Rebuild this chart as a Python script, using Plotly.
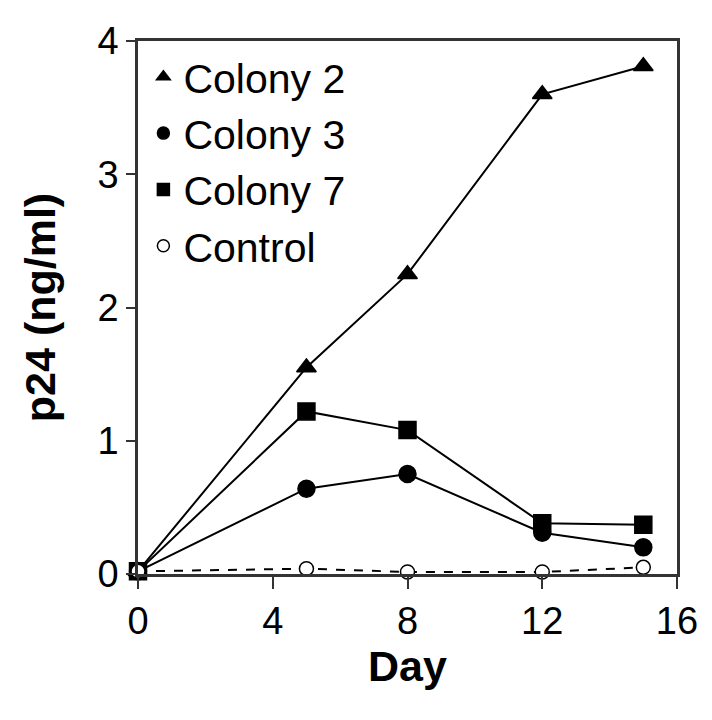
import plotly.graph_objects as go

days = [0, 5, 8, 12, 15]
colony2 = [0.02, 1.55, 2.25, 3.60, 3.81]
colony3 = [0.02, 0.64, 0.75, 0.31, 0.20]
colony7 = [0.02, 1.22, 1.08, 0.38, 0.37]
control = [0.02, 0.04, 0.015, 0.015, 0.05]

font = "Liberation Sans, Arial, Helvetica, sans-serif"

series = [
    ("Colony 2", colony2, "triangle-up", "black", 17, "solid"),
    ("Colony 3", colony3, "circle", "black", 17, "solid"),
    ("Colony 7", colony7, "square", "black", 17, "solid"),
    ("Control", control, "circle", "white", 14, "dash"),
]

fig = go.Figure()

# plotted lines (no legend)
for name, vals, sym, fill, size, dash in series:
    fig.add_trace(go.Scatter(
        x=days, y=vals, mode="lines+markers", showlegend=False,
        line=dict(color="black", width=2, dash=dash),
        marker=dict(symbol=sym, size=size, color=fill,
                    line=dict(color="black", width=1.5)),
        cliponaxis=False,
    ))

# legend entries show markers only
for name, vals, sym, fill, size, dash in series:
    fig.add_trace(go.Scatter(
        x=[None], y=[None], mode="markers", name=name,
        marker=dict(symbol=sym, size=12, color=fill,
                    line=dict(color="black", width=1.5)),
    ))

fig.update_layout(
    width=712, height=720,
    margin=dict(l=130, r=43, t=30, b=154),
    paper_bgcolor="white", plot_bgcolor="white",
    font=dict(family=font, size=38, color="black"),
    legend=dict(x=0.01, y=0.995, xanchor="left", yanchor="top",
                bgcolor="rgba(0,0,0,0)", font=dict(size=41),
                itemwidth=30, tracegroupgap=0),
    xaxis=dict(
        range=[0, 16], tickvals=[0, 4, 8, 12, 16],
        ticks="outside", ticklen=12, tickwidth=2, tickcolor="#333",
        showline=True, linecolor="#333", linewidth=2.5, mirror=True,
        showgrid=False, zeroline=False,
        tickfont=dict(size=38),
        title=dict(text="Day", font=dict(size=43, weight="bold"), standoff=8),
    ),
    yaxis=dict(
        range=[0, 4], tickvals=[0, 1, 2, 3, 4],
        ticks="outside", ticklen=9, tickwidth=2, tickcolor="#333",
        showline=True, linecolor="#333", linewidth=2.5, mirror=True,
        showgrid=False, zeroline=False,
        tickfont=dict(size=38),
        title=dict(text="p24 (ng/ml)", font=dict(size=43, weight="bold"), standoff=29),
    ),
)

fig.write_html("out.html")
